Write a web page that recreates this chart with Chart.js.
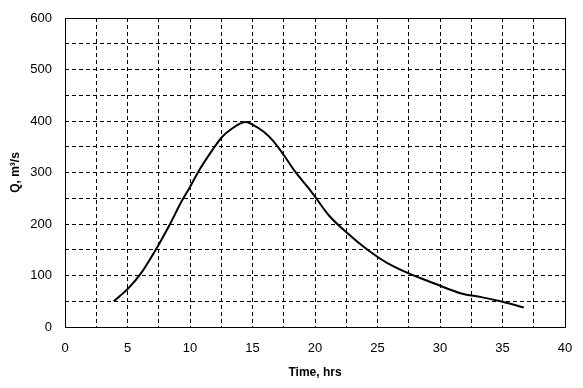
<!DOCTYPE html>
<html>
<head>
<meta charset="utf-8">
<script src="https://cdn.jsdelivr.net/npm/chart.js@4"></script>
<style>
  body { margin: 0; background: #fff; }
  #caixa { width: 583px; height: 388px; }
</style>
</head>
<body>
<div id="caixa"><canvas id="grafico"></canvas></div>
<script>
// hydrograph
const tempo = [3.9, 5.1, 6.1, 7.4, 8.3, 9.35, 10.0, 10.7, 11.8, 12.6, 13.4, 14.0, 14.5, 15.0, 15.9, 16.7, 17.5, 18.4, 19.5, 20.0, 21.1, 22.6, 24.2, 25.8, 27.5, 29.5, 31.7, 33.3, 35.0, 36.7]
const vazao = [50, 76, 105, 156, 195, 245, 272, 303, 344, 370, 386, 395, 398, 393, 379, 360, 334, 302, 269, 253, 217, 182, 150, 124, 104, 85, 65, 58, 49, 38]
const ticksX = [0, 5, 10, 15, 20, 25, 30, 35, 40]
const ticksY = [0, 100, 200, 300, 400, 500, 600]

const pontos = tempo.map((t, i) => ({ x: t, y: vazao[i] }))

Chart.defaults.font.family = '"Liberation Sans", Arial, sans-serif'
Chart.defaults.color = '#000'

const moldura = {
    id: 'moldura',
    afterDraw(chart) {
        const { ctx, chartArea } = chart
        ctx.save()
        ctx.strokeStyle = '#000'
        ctx.lineWidth = 1
        ctx.setLineDash([])
        ctx.strokeRect(Math.round(chartArea.left) + 0.5, Math.round(chartArea.top) + 0.5,
            Math.round(chartArea.right - chartArea.left), Math.round(chartArea.bottom - chartArea.top))
        ctx.restore()
    }
}

const grafico = new Chart(document.getElementById('grafico'), {
    type: 'scatter',
    data: {
        datasets: [{
            data: pontos,
            showLine: true,
            borderColor: '#000',
            borderWidth: 2,
            pointRadius: 0,
            cubicInterpolationMode: 'monotone'
        }]
    },
    options: {
        responsive: true,
        maintainAspectRatio: false,
        animation: false,
        layout: { padding: { top: 18, right: 18, left: 0, bottom: 0 } },
        plugins: { legend: { display: false }, tooltip: { enabled: false } },
        scales: {
            x: {
                type: 'linear',
                min: 0,
                max: 40,
                afterFit: (s) => { s.height = 61; s.paddingLeft = 0; s.paddingRight = 0 },
                ticks: {
                    stepSize: 2.5,
                    padding: 14,
                    maxRotation: 0,
                    autoSkip: false,
                    font: { size: 13 },
                    callback: (v) => ticksX.includes(v) ? v : ''
                },
                grid: { color: '#000', drawTicks: false },
                border: { display: false, dash: [4, 3] },
                title: {
                    display: true,
                    text: 'Time, hrs',
                    font: { size: 12, weight: 'bold' },
                    padding: { top: 0, bottom: 8 }
                }
            },
            y: {
                min: 0,
                max: 600,
                afterFit: (s) => { s.width = 65; s.paddingTop = 0; s.paddingBottom = 0 },
                ticks: {
                    stepSize: 50,
                    padding: 13,
                    autoSkip: false,
                    font: { size: 13 },
                    callback: (v) => ticksY.includes(v) ? v : ''
                },
                grid: { color: '#000', drawTicks: false },
                border: { display: false, dash: [4, 3] },
                title: {
                    display: true,
                    text: 'Q, m³/s',
                    font: { size: 12, weight: 'bold' },
                    padding: { top: 8, bottom: 0 }
                }
            }
        }
    },
    plugins: [moldura]
})
</script>
</body>
</html>
